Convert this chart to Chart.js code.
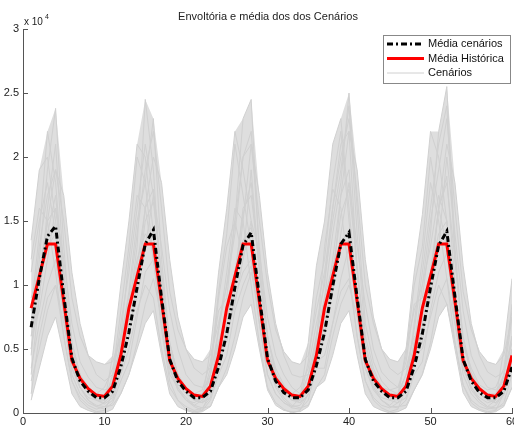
<!DOCTYPE html>
<html>
<head>
<meta charset="utf-8">
<script src="https://cdn.jsdelivr.net/npm/chart.js@4.4.1/dist/chart.umd.min.js"></script>
<style>
  html, body { margin: 0; padding: 0; background: #fff; }
  #wrap { width: 514px; height: 428px; }
</style>
</head>
<body>
<div id="wrap"><canvas id="grafico" width="514" height="428"></canvas></div>
<script>
// valores em unidades de 10^4
const meses = Array.from({ length: 60 }, (_, i) => i + 1);

const mediaHistorica = [
  0.82, 1.07, 1.32, 1.32, 0.87, 0.41, 0.27, 0.19, 0.14, 0.13, 0.21, 0.45,
  0.82, 1.07, 1.32, 1.32, 0.87, 0.41, 0.27, 0.19, 0.14, 0.13, 0.21, 0.45,
  0.82, 1.07, 1.32, 1.32, 0.87, 0.41, 0.27, 0.19, 0.14, 0.13, 0.21, 0.45,
  0.82, 1.07, 1.32, 1.32, 0.87, 0.41, 0.27, 0.19, 0.14, 0.13, 0.21, 0.45,
  0.82, 1.07, 1.32, 1.32, 0.87, 0.41, 0.27, 0.19, 0.14, 0.13, 0.21, 0.45
];

const mediaCenarios = [
  0.67, 1.05, 1.38, 1.46, 0.92, 0.43, 0.25, 0.17, 0.12, 0.12, 0.17, 0.36,
  0.63, 0.98, 1.32, 1.43, 0.90, 0.42, 0.25, 0.17, 0.12, 0.12, 0.17, 0.36,
  0.62, 0.98, 1.31, 1.41, 0.91, 0.43, 0.25, 0.16, 0.12, 0.12, 0.18, 0.37,
  0.63, 0.99, 1.32, 1.41, 0.90, 0.42, 0.25, 0.17, 0.12, 0.12, 0.17, 0.36,
  0.62, 0.98, 1.31, 1.42, 0.91, 0.42, 0.25, 0.16, 0.12, 0.12, 0.17, 0.36
];

const cenario1 = [
  0.45, 1.2, 1.9, 2.38, 1.3, 0.55, 0.3, 0.2, 0.15, 0.12, 0.25, 0.7,
  1.1, 1.6, 2.1, 1.7, 1.0, 0.5, 0.3, 0.18, 0.1, 0.08, 0.3, 0.9,
  1.3, 1.5, 1.2, 1.9, 1.1, 0.6, 0.35, 0.22, 0.14, 0.1, 0.2, 0.6,
  0.9, 1.4, 1.8, 2.5, 1.6, 0.7, 0.4, 0.25, 0.18, 0.15, 0.3, 0.5,
  1.0, 1.3, 1.7, 1.5, 0.9, 0.45, 0.28, 0.2, 0.15, 0.12, 0.28, 0.75
];
const cenario2 = [
  0.15, 0.6, 0.9, 1.0, 0.6, 0.25, 0.12, 0.06, 0.03, 0.05, 0.1, 0.3,
  0.5, 0.8, 1.0, 0.9, 0.5, 0.2, 0.1, 0.05, 0.02, 0.04, 0.12, 0.35,
  0.6, 0.9, 1.1, 1.2, 0.7, 0.3, 0.15, 0.08, 0.05, 0.06, 0.15, 0.4,
  0.45, 0.7, 0.95, 1.05, 0.6, 0.25, 0.12, 0.06, 0.04, 0.08, 0.2, 0.45,
  0.5, 0.75, 1.0, 0.85, 0.55, 0.22, 0.1, 0.05, 0.03, 0.06, 0.15, 0.35
];
const cenario3 = [
  1.1, 1.5, 1.8, 1.4, 0.8, 0.35, 0.2, 0.12, 0.1, 0.1, 0.3, 0.8,
  1.3, 2.0, 1.8, 1.2, 0.7, 0.3, 0.2, 0.1, 0.08, 0.12, 0.35, 0.95,
  1.4, 2.1, 1.7, 1.3, 0.8, 0.4, 0.25, 0.15, 0.1, 0.1, 0.4, 0.9,
  1.2, 1.8, 2.2, 1.5, 0.9, 0.4, 0.22, 0.12, 0.1, 0.15, 0.45, 1.0,
  1.3, 2.0, 1.6, 1.3, 0.7, 0.35, 0.2, 0.12, 0.08, 0.1, 0.3, 0.85
];
const cenario4 = [
  0.6, 0.8, 1.2, 1.6, 1.2, 0.7, 0.4, 0.28, 0.2, 0.18, 0.2, 0.4,
  0.7, 0.9, 1.3, 1.7, 1.3, 0.8, 0.5, 0.3, 0.22, 0.2, 0.25, 0.45,
  0.6, 0.85, 1.2, 1.5, 1.25, 0.75, 0.45, 0.3, 0.2, 0.15, 0.2, 0.4,
  0.7, 0.95, 1.4, 1.8, 1.3, 0.85, 0.5, 0.32, 0.25, 0.2, 0.22, 0.5,
  0.65, 0.9, 1.3, 2.0, 1.4, 0.8, 0.45, 0.3, 0.2, 0.18, 0.25, 0.45
];
const cenario5 = [
  0.9, 1.1, 1.3, 1.4, 0.9, 0.4, 0.25, 0.15, 0.12, 0.1, 0.18, 0.5,
  0.85, 1.2, 1.4, 1.3, 0.85, 0.4, 0.22, 0.15, 0.1, 0.12, 0.2, 0.55,
  0.8, 1.0, 1.35, 1.45, 0.95, 0.45, 0.25, 0.18, 0.12, 0.1, 0.2, 0.5,
  0.9, 1.15, 1.3, 1.35, 0.9, 0.42, 0.24, 0.16, 0.12, 0.12, 0.22, 0.55,
  0.85, 1.1, 1.4, 1.5, 0.95, 0.4, 0.25, 0.15, 0.1, 0.1, 0.2, 0.5
];
const cenario6 = [
  0.3, 0.9, 1.6, 2.1, 1.1, 0.5, 0.3, 0.2, 0.15, 0.2, 0.35, 0.6,
  0.8, 1.3, 2.45, 1.9, 0.9, 0.45, 0.3, 0.2, 0.15, 0.18, 0.4, 0.8,
  0.9, 1.5, 2.3, 2.45, 1.2, 0.5, 0.3, 0.2, 0.15, 0.2, 0.35, 0.7,
  1.0, 1.6, 2.1, 2.2, 1.1, 0.5, 0.32, 0.2, 0.18, 0.2, 0.4, 0.85,
  0.9, 1.4, 2.2, 2.55, 1.3, 0.55, 0.35, 0.22, 0.18, 0.2, 0.35, 0.8
];
const cenario7 = [
  0.35, 0.7, 1.0, 1.2, 0.75, 0.3, 0.15, 0.08, 0.05, 0.03, 0.08, 0.25,
  0.4, 0.75, 1.1, 1.2, 0.8, 0.35, 0.18, 0.1, 0.05, 0.02, 0.1, 0.3,
  0.45, 0.8, 1.0, 1.15, 0.7, 0.3, 0.15, 0.08, 0.04, 0.03, 0.1, 0.35,
  0.35, 0.7, 1.05, 1.3, 0.85, 0.35, 0.18, 0.1, 0.05, 0.04, 0.1, 0.3,
  0.4, 0.8, 1.1, 1.25, 0.8, 0.3, 0.15, 0.08, 0.04, 0.03, 0.08, 0.3
];
const cenario8 = [
  0.7, 1.3, 1.7, 1.9, 1.5, 0.9, 0.6, 0.45, 0.4, 0.38, 0.4, 0.6,
  0.9, 1.4, 1.9, 2.2, 1.6, 0.95, 0.65, 0.5, 0.42, 0.4, 0.45, 0.7,
  1.0, 1.5, 2.0, 2.1, 1.5, 1.0, 0.65, 0.48, 0.4, 0.38, 0.45, 0.8,
  1.1, 1.6, 2.0, 2.3, 1.7, 1.0, 0.7, 0.5, 0.42, 0.4, 0.5, 0.8,
  1.0, 1.5, 1.9, 2.3, 1.6, 0.95, 0.65, 0.48, 0.4, 0.38, 0.45, 0.75
];
const cenario9 = [
  1.2, 1.6, 1.5, 1.1, 0.6, 0.25, 0.1, 0.04, 0.01, 0.02, 0.15, 0.6,
  1.2, 1.7, 1.6, 1.2, 0.65, 0.25, 0.1, 0.03, 0.01, 0.02, 0.18, 0.65,
  1.1, 1.6, 1.5, 1.0, 0.55, 0.2, 0.08, 0.03, 0.0, 0.02, 0.15, 0.55,
  1.3, 1.75, 1.6, 1.1, 0.6, 0.25, 0.1, 0.04, 0.01, 0.03, 0.2, 0.7,
  1.2, 1.8, 1.5, 1.05, 0.55, 0.22, 0.08, 0.03, 0.01, 0.02, 0.15, 0.6
];
const cenario10 = [
  0.8, 1.4, 2.2, 1.8, 1.0, 0.5, 0.28, 0.18, 0.12, 0.15, 0.25, 0.55,
  0.95, 1.5, 1.8, 2.3, 1.2, 0.55, 0.3, 0.2, 0.14, 0.15, 0.3, 0.65,
  1.0, 1.4, 2.0, 2.2, 1.3, 0.6, 0.3, 0.2, 0.12, 0.12, 0.3, 0.6,
  1.05, 1.5, 1.9, 2.4, 1.4, 0.6, 0.35, 0.2, 0.15, 0.15, 0.3, 0.65,
  1.1, 1.6, 2.1, 2.4, 1.2, 0.55, 0.3, 0.2, 0.15, 0.15, 0.3, 0.6
];
const cenario11 = [
  0.25, 0.5, 0.8, 1.0, 0.7, 0.35, 0.2, 0.1, 0.06, 0.05, 0.06, 0.15,
  0.3, 0.55, 0.85, 1.05, 0.75, 0.4, 0.2, 0.12, 0.06, 0.04, 0.05, 0.2,
  0.35, 0.6, 0.9, 1.1, 0.8, 0.4, 0.22, 0.12, 0.06, 0.04, 0.06, 0.2,
  0.3, 0.6, 0.85, 1.0, 0.75, 0.35, 0.2, 0.1, 0.05, 0.05, 0.06, 0.18,
  0.3, 0.55, 0.9, 1.05, 0.7, 0.35, 0.2, 0.1, 0.05, 0.04, 0.06, 0.2
];
const cenario12 = [
  0.5, 1.0, 1.4, 1.7, 1.0, 0.45, 0.25, 0.15, 0.1, 0.08, 0.15, 0.45,
  0.75, 1.15, 1.6, 1.75, 1.05, 0.5, 0.3, 0.18, 0.1, 0.08, 0.15, 0.5,
  0.7, 1.1, 1.55, 1.8, 1.1, 0.5, 0.28, 0.16, 0.1, 0.08, 0.18, 0.5,
  0.75, 1.2, 1.7, 1.9, 1.1, 0.5, 0.3, 0.18, 0.12, 0.1, 0.2, 0.55,
  0.7, 1.1, 1.6, 1.85, 1.0, 0.45, 0.26, 0.15, 0.1, 0.08, 0.15, 0.5
];
const cenario13 = [
  0.5, 0.9, 1.5, 1.9, 1.7, 1.1, 0.7, 0.45, 0.3, 0.25, 0.3, 0.5,
  0.6, 1.0, 1.6, 2.0, 1.8, 1.2, 0.75, 0.5, 0.35, 0.3, 0.35, 0.55,
  0.55, 0.95, 1.5, 2.1, 1.7, 1.1, 0.7, 0.45, 0.3, 0.28, 0.3, 0.5,
  0.6, 1.0, 1.7, 2.2, 1.9, 1.2, 0.75, 0.5, 0.35, 0.3, 0.35, 0.6,
  0.55, 1.0, 1.6, 2.1, 1.8, 1.15, 0.7, 0.45, 0.32, 0.28, 0.32, 0.55
];
const cenario14 = [
  1.35, 1.9, 2.0, 1.5, 0.9, 0.4, 0.2, 0.1, 0.05, 0.08, 0.45, 1.0,
  1.5, 2.1, 2.0, 1.4, 0.8, 0.35, 0.18, 0.1, 0.06, 0.1, 0.5, 1.1,
  1.6, 2.2, 1.9, 1.5, 0.85, 0.4, 0.2, 0.1, 0.05, 0.12, 0.55, 1.15,
  1.5, 2.1, 2.3, 1.6, 0.9, 0.4, 0.2, 0.1, 0.06, 0.12, 0.5, 1.1,
  1.55, 2.2, 2.0, 1.5, 0.85, 0.38, 0.18, 0.1, 0.05, 0.1, 0.5, 1.05
];
const cenario15 = [
  0.6, 1.1, 1.5, 1.6, 1.1, 0.55, 0.3, 0.18, 0.1, 0.07, 0.12, 0.35,
  0.6, 1.0, 1.5, 1.65, 1.1, 0.55, 0.3, 0.2, 0.12, 0.08, 0.12, 0.4,
  0.65, 1.05, 1.6, 1.7, 1.15, 0.6, 0.32, 0.2, 0.12, 0.08, 0.14, 0.4,
  0.6, 1.1, 1.55, 1.75, 1.15, 0.55, 0.3, 0.18, 0.1, 0.08, 0.12, 0.4,
  0.62, 1.05, 1.6, 1.8, 1.2, 0.6, 0.32, 0.2, 0.12, 0.08, 0.14, 0.4
];
const cenario16 = [
  0.1, 0.35, 0.6, 0.75, 0.45, 0.15, 0.05, 0.02, 0.0, 0.0, 0.03, 0.15,
  0.3, 0.5, 0.7, 0.8, 0.45, 0.15, 0.05, 0.02, 0.0, 0.01, 0.05, 0.2,
  0.3, 0.5, 0.75, 0.85, 0.5, 0.18, 0.06, 0.02, 0.01, 0.01, 0.05, 0.2,
  0.25, 0.45, 0.7, 0.8, 0.45, 0.15, 0.05, 0.02, 0.0, 0.01, 0.04, 0.18,
  0.3, 0.5, 0.75, 0.85, 0.5, 0.16, 0.05, 0.02, 0.0, 0.01, 0.05, 0.2
];

const cenarios = [cenario1, cenario2, cenario3, cenario4, cenario5, cenario6,
  cenario7, cenario8, cenario9, cenario10, cenario11, cenario12,
  cenario13, cenario14, cenario15, cenario16];

const ticksX = [0, 10, 20, 30, 40, 50, 60];
const ticksY = [0, 0.5, 1, 1.5, 2, 2.5, 3];

const titulo = 'Envoltória e média dos dos Cenários';
const legendas = ['Média cenários', 'Média Histórica', 'Cenários'];

const FONTE = '"Liberation Sans", Arial, sans-serif';
const CINZA = 'rgb(208,208,208)';

// envoltória: máximo e mínimo dos cenários em cada mês
const envMax = meses.map((_, i) => Math.max(...cenarios.map(c => c[i])));
const envMin = meses.map((_, i) => Math.min(...cenarios.map(c => c[i])));

const pontos = arr => arr.map((v, i) => ({ x: meses[i], y: v }));

const datasets = [
  {
    label: legendas[0],
    data: pontos(mediaCenarios),
    borderColor: '#000',
    borderWidth: 3,
    borderDash: [6, 3, 2, 3],
    pointRadius: 0,
    fill: false
  },
  {
    label: legendas[1],
    data: pontos(mediaHistorica),
    borderColor: 'rgb(255,0,0)',
    borderWidth: 3,
    pointRadius: 0,
    fill: false
  }
];
cenarios.forEach((c, k) => {
  datasets.push({
    label: legendas[2] + ' ' + (k + 1),
    data: pontos(c),
    borderColor: CINZA,
    borderWidth: 1,
    pointRadius: 0,
    fill: false
  });
});
datasets.push({
  label: 'env-max',
  data: pontos(envMax),
  borderColor: 'rgba(0,0,0,0)',
  borderWidth: 0,
  pointRadius: 0,
  backgroundColor: 'rgb(222,222,222)',
  fill: '+1'
});
datasets.push({
  label: 'env-min',
  data: pontos(envMin),
  borderColor: 'rgba(0,0,0,0)',
  borderWidth: 0,
  pointRadius: 0,
  fill: false
});

// ticks para dentro, título, rótulo x 10^4 e legenda
const estiloMatlab = {
  id: 'estiloMatlab',
  afterDraw(chart) {
    const { ctx, chartArea: a, scales } = chart;
    ctx.save();
    ctx.strokeStyle = '#555';
    ctx.lineWidth = 1;
    ctx.beginPath();
    ticksX.forEach(t => {
      const px = Math.round(scales.x.getPixelForValue(t)) + 0.5;
      ctx.moveTo(px, a.bottom);
      ctx.lineTo(px, a.bottom - 5);
    });
    ticksY.forEach(t => {
      const py = Math.round(scales.y.getPixelForValue(t)) + 0.5;
      ctx.moveTo(a.left, py);
      ctx.lineTo(a.left + 5, py);
    });
    ctx.stroke();

    ctx.fillStyle = '#222';
    ctx.font = '11px ' + FONTE;
    ctx.textAlign = 'center';
    ctx.textBaseline = 'middle';
    ctx.fillText(titulo, 268, 17);

    ctx.textAlign = 'left';
    ctx.font = '10px ' + FONTE;
    ctx.fillText('x 10', 24, 22);
    ctx.font = '7px ' + FONTE;
    ctx.fillText('4', 45, 17);

    // legenda
    const bx = 383.5, by = 35.5, bw = 127, bh = 48;
    ctx.fillStyle = '#fff';
    ctx.fillRect(bx, by, bw, bh);
    ctx.strokeStyle = '#888';
    ctx.strokeRect(bx, by, bw, bh);
    const linhas = [
      { cor: '#000', w: 3, dash: [6, 3, 2, 3] },
      { cor: 'rgb(255,0,0)', w: 3, dash: [] },
      { cor: CINZA, w: 1, dash: [] }
    ];
    linhas.forEach((l, i) => {
      const y = 44 + i * 14.5;
      ctx.beginPath();
      ctx.setLineDash(l.dash);
      ctx.strokeStyle = l.cor;
      ctx.lineWidth = l.w;
      ctx.moveTo(387, y);
      ctx.lineTo(424, y);
      ctx.stroke();
      ctx.setLineDash([]);
      ctx.fillStyle = '#111';
      ctx.font = '11px ' + FONTE;
      ctx.fillText(legendas[i], 428, y);
    });
    ctx.restore();
  }
};

new Chart(document.getElementById('grafico'), {
  type: 'line',
  data: { datasets },
  options: {
    responsive: false,
    animation: false,
    layout: { padding: { top: 29, right: 2, left: 0, bottom: 0 } },
    plugins: {
      legend: { display: false },
      title: { display: false },
      tooltip: { enabled: false },
      filler: { propagate: false }
    },
    elements: { line: { tension: 0 } },
    scales: {
      x: {
        type: 'linear',
        min: 0,
        max: 60,
        afterBuildTicks: s => { s.ticks = ticksX.map(v => ({ value: v })); },
        afterFit: s => { s.height = 15; s.paddingLeft = 0; s.paddingRight = 0; },
        ticks: { color: '#222', font: { family: FONTE, size: 11 }, padding: 2, maxRotation: 0, autoSkip: false },
        grid: { color: 'rgba(0,0,0,0)', drawTicks: false },
        border: { color: '#555', width: 1 }
      },
      y: {
        min: 0,
        max: 3,
        afterBuildTicks: s => { s.ticks = ticksY.map(v => ({ value: v })); },
        afterFit: s => { s.width = 23; s.paddingTop = 0; s.paddingBottom = 0; },
        ticks: {
          color: '#222',
          font: { family: FONTE, size: 11 },
          padding: 4,
          callback: v => String(v)
        },
        grid: { color: 'rgba(0,0,0,0)', drawTicks: false },
        border: { color: '#555', width: 1 }
      }
    }
  },
  plugins: [estiloMatlab]
});
</script>
</body>
</html>
